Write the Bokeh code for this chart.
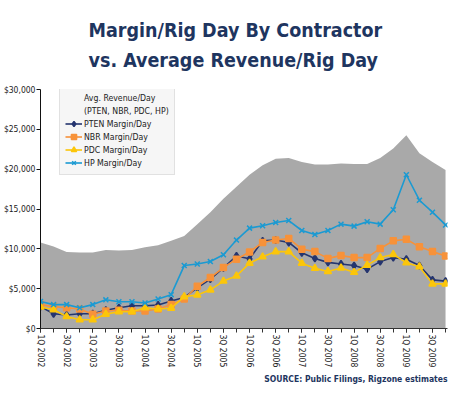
from bokeh.plotting import figure
from bokeh.models import Range1d, FixedTicker, NumeralTickFormatter, Legend, LegendItem, Title
from bokeh.embed import file_html
from bokeh.resources import INLINE

quarters = ["1Q 2002", "2Q 2002", "3Q 2002", "4Q 2002", "1Q 2003", "2Q 2003", "3Q 2003", "4Q 2003",
            "1Q 2004", "2Q 2004", "3Q 2004", "4Q 2004", "1Q 2005", "2Q 2005", "3Q 2005", "4Q 2005",
            "1Q 2006", "2Q 2006", "3Q 2006", "4Q 2006", "1Q 2007", "2Q 2007", "3Q 2007", "4Q 2007",
            "1Q 2008", "2Q 2008", "3Q 2008", "4Q 2008", "1Q 2009", "2Q 2009", "3Q 2009", "4Q 2009"]
tick_labels = ["1Q 2002", "3Q 2002", "1Q 2003", "3Q 2003", "1Q 2004", "3Q 2004", "1Q 2005", "3Q 2005",
               "1Q 2006", "3Q 2006", "1Q 2007", "3Q 2007", "1Q 2008", "3Q 2008", "1Q 2009", "3Q 2009"]

avg_revenue = [10800, 10300, 9600, 9550, 9550, 9850, 9800, 9850, 10200, 10450, 11000, 11600,
               13100, 14600, 16300, 17800, 19300, 20500, 21300, 21400, 20900, 20600, 20600, 20700,
               20650, 20650, 21400, 22600, 24250, 22000, 20900, 19900]
pten = [2750, 1850, 1700, 1850, 1850, 2300, 2600, 2850, 2850, 2950, 3450, 3900, 5100, 6200, 7600, 9100,
        8750, 11000, 11100, 10800, 9500, 8800, 8300, 8100, 7900, 7450, 8400, 8900, 8700, 7900, 6100, 5950]
nbr = [3000, 2750, 2600, 2450, 1800, 2200, 2300, 2200, 2200, 2450, 3000, 3700, 5300, 6400, 7650, 8700,
       9600, 10800, 11100, 11300, 9950, 9650, 8800, 9150, 8900, 8900, 10050, 11000, 11200, 10250, 9650, 9100]
pdc = [2700, 2350, 1500, 1100, 1100, 1800, 2100, 2100, 2600, 2450, 2550, 4000, 4200, 4850, 5950, 6600,
       8200, 9000, 9650, 9650, 8200, 7550, 7150, 7600, 7050, 7950, 8900, 9300, 8250, 7750, 5600, 5600]
hp = [3400, 3000, 3000, 2600, 3000, 3600, 3350, 3350, 3200, 3700, 4250, 7900, 8100, 8400, 9250, 11100,
      12600, 12900, 13300, 13550, 12300, 11800, 12300, 13100, 12850, 13400, 13100, 14900, 19300, 16100, 14600, 13000]
y_ticks = [0, 5000, 10000, 15000, 20000, 25000, 30000]

title_line1 = "Margin/Rig Day By Contractor"
title_line2 = "vs. Average Revenue/Rig Day"
source_text = "SOURCE: Public Filings, Rigzone estimates"

FONT = "DejaVu Sans Condensed"
NAVY = "#1e3560"
x = list(range(len(quarters)))

W, H = 450, 396
BL, BR, BT, BB = 40, 3, 87, 68
FH = H - BT - BB

p = figure(width=W, height=H, output_backend="svg", toolbar_location=None,
           x_range=Range1d(0, 31.15), y_range=Range1d(0, 30000),
           min_border_left=BL, min_border_right=BR, min_border_top=BT, min_border_bottom=BB)
p.outline_line_color = None
p.grid.visible = False
p.title.text = ""

p.varea(x=x, y1=0, y2=avg_revenue, fill_color="#a9a9a9")
rev_leg = p.line(x=[], y=[], line_color="#a9a9a9", line_width=5)
blank = p.line(x=[], y=[], line_alpha=0)

series = [("PTEN Margin/Day", pten, "#25356f", "diamond", 7),
          ("NBR Margin/Day", nbr, "#f7923a", "square", 6),
          ("PDC Margin/Day", pdc, "#fcc60a", "triangle", 7),
          ("HP Margin/Day", hp, "#1b9ad2", "x", 7)]
items = [LegendItem(label="Avg. Revenue/Day", renderers=[rev_leg]),
         LegendItem(label="(PTEN, NBR, PDC, HP)", renderers=[blank])]
for name, vals, col, mk, sz in series:
    l = p.line(x=x, y=vals, line_color=col, line_width=1.6)
    s = p.scatter(x=x, y=vals, marker=mk, size=sz, fill_color=col, line_color=col, line_width=1.5)
    items.append(LegendItem(label=name, renderers=[l, s]))

legend = Legend(items=items, location=(19, FH - 88), margin=0, padding=5, spacing=0,
                label_text_font=FONT, label_text_font_size="8.7px", label_text_color="#222222",
                label_height=13, glyph_height=13, glyph_width=17, label_standoff=2,
                background_fill_color="#f5f6f6", border_line_color="#cccccc", border_line_width=1)
p.add_layout(legend)

p.yaxis.ticker = FixedTicker(ticks=y_ticks)
p.yaxis.formatter = NumeralTickFormatter(format="$0,0")
p.yaxis.major_label_text_font = FONT
p.yaxis.major_label_text_font_size = "8.5px"
p.yaxis.major_label_text_color = "#222222"
p.yaxis.major_tick_out = 4
p.yaxis.major_tick_in = 0
p.yaxis.minor_tick_out = 0
p.yaxis.minor_tick_in = 0
p.yaxis.axis_line_color = "#111111"
p.yaxis.major_tick_line_color = "#111111"
p.yaxis.major_label_standoff = 1

p.xaxis.ticker = FixedTicker(ticks=x[::2], minor_ticks=x)
p.xaxis.major_label_overrides = {i: lab for i, lab in zip(x[::2], tick_labels)}
p.xaxis.major_label_orientation = "vertical"
p.xaxis.major_label_text_font = FONT
p.xaxis.major_label_text_font_size = "8.5px"
p.xaxis.major_label_text_color = "#222222"
p.xaxis.major_tick_out = 4
p.xaxis.major_tick_in = 0
p.xaxis.minor_tick_out = 4
p.xaxis.minor_tick_in = 0
p.xaxis.axis_line_color = "#333333"
p.xaxis.major_tick_line_color = "#333333"
p.xaxis.minor_tick_line_color = "#333333"
p.xaxis.major_label_standoff = 2

p.add_layout(Title(text=source_text, align="right", offset=0, standoff=2,
                   text_font=FONT, text_font_size="8.5px", text_color=NAVY), "below")
p.add_layout(Title(text=title_line1 + "\n" + title_line2, align="left", offset=48, standoff=34,
                   text_line_height=1.32, text_font=FONT, text_font_size="19.5px",
                   text_font_style="bold", text_color=NAVY), "above")

open("out.html", "w").write(file_html(p, INLINE))
